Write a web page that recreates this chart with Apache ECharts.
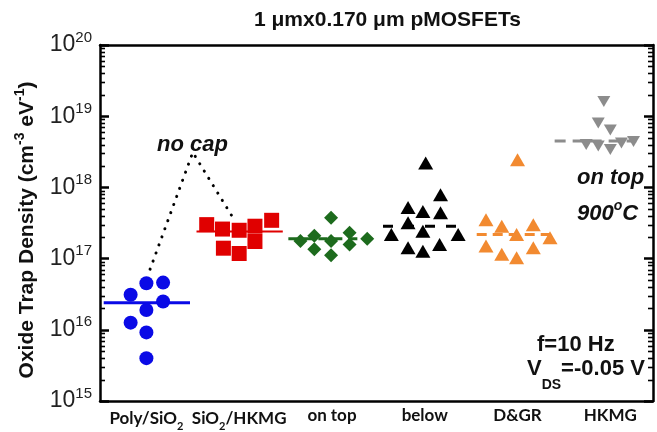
<!DOCTYPE html>
<html>
<head>
<meta charset="utf-8">
<script src="https://cdn.jsdelivr.net/npm/echarts@6/dist/echarts.min.js"></script>
<style>
  html, body { margin: 0; padding: 0; background: #fff; }
  #chart { width: 657px; height: 432px; }
</style>
</head>
<body>
<div id="chart"></div>
<script>
// Device groups along the x axis (group i sits at x = i + 0.5)
const groupLabels = ['Poly/SiO{sub|2}', 'SiO{sub|2}/HKMG', 'on top', 'below', 'D&GR', 'HKMG'];

// Measured oxide trap densities [x position, cm^-3 eV^-1]
const polySiO2 = [[0.50, 4.5e16], [0.68, 4.6e16], [0.33, 3.1e16], [0.68, 2.5e16],
                  [0.50, 1.9e16], [0.33, 1.26e16], [0.50, 9.2e15], [0.50, 4.0e15]];
const sio2Hkmg = [[1.15, 3.0e17], [1.32, 2.6e17], [1.50, 2.5e17], [1.67, 2.85e17],
                  [1.85, 3.45e17], [1.33, 1.4e17], [1.67, 1.74e17], [1.50, 1.18e17]];
const onTop    = [[2.49, 3.75e17], [2.16, 1.76e17], [2.31, 2.1e17], [2.31, 1.35e17],
                  [2.49, 1.76e17], [2.49, 1.11e17], [2.69, 2.3e17], [2.69, 1.58e17], [2.88, 1.9e17]];
const below    = [[3.51, 2.2e18], [3.67, 7.9e17], [3.32, 5.2e17], [3.48, 4.6e17],
                  [3.67, 4.4e17], [3.32, 3.2e17], [3.14, 2.18e17], [3.48, 2.43e17],
                  [3.86, 2.18e17], [3.32, 1.42e17], [3.48, 1.27e17], [3.66, 1.58e17]];
const dgr      = [[4.50, 2.45e18], [4.16, 3.5e17], [4.33, 2.85e17], [4.49, 2.18e17],
                  [4.67, 3.0e17], [4.85, 1.96e17], [4.16, 1.5e17], [4.33, 1.15e17],
                  [4.49, 1.03e17], [4.67, 1.42e17]];
const hkmg     = [[5.43, 1.61e19], [5.37, 8.0e18], [5.50, 6.4e18], [5.24, 4.0e18],
                  [5.37, 3.8e18], [5.50, 3.4e18], [5.62, 4.2e18], [5.75, 4.4e18]];

// Group means and the x extent of each mean bar
const groupMeans = [2.4e16, 2.4e17, 1.9e17, 2.85e17, 2.18e17, 4.5e18];
const meanSpans  = [[0.04, 0.97], [1.04, 1.97], [2.03, 2.98], [3.05, 3.95], [4.06, 4.92], [4.90, 5.78]];

// Dotted guide from the Poly/SiO2 group up to the "no cap" note and down to SiO2/HKMG
const noCapPath = [[0.54, 7.1e16], [1.00, 3.1e18], [1.42, 4.0e17]];

// Axis ranges
const yMin = 1e15, yMax = 1e20;
const xMin = 0, xMax = 5.96;

const groupStyles = [
  { data: polySiO2, color: '#0a0ae6', symbol: 'circle',   size: 14,       rotate: 0,   dash: 'solid', width: 3 },
  { data: sio2Hkmg, color: '#e00000', symbol: 'rect',     size: 15,       rotate: 0,   dash: 'solid', width: 2 },
  { data: onTop,    color: '#1d6b1d', symbol: 'diamond',  size: [14, 14], rotate: 0,   dash: [9, 6],  width: 3 },
  { data: below,    color: '#000000', symbol: 'triangle', size: [15, 13], rotate: 0,   dash: [10, 11], width: 3 },
  { data: dgr,      color: '#f28a30', symbol: 'triangle', size: [15, 13], rotate: 0,   dash: [10, 6], width: 3 },
  { data: hkmg,     color: '#8c8c8c', symbol: 'triangle', size: [13, 11], rotate: 180, dash: [11, 7], width: 3 }
];

// Minor log ticks 2..9 within each decade
const minorTicks = [];
for (let e = 15; e < 20; e++) {
  for (let k = 2; k <= 9; k++) minorTicks.push([xMin, k * Math.pow(10, e)]);
}

const FONT = '"Liberation Sans", Arial, sans-serif';
const LABEL_FONT = 'Lato, "Open Sans", sans-serif';

const series = [];

groupStyles.forEach((g, i) => {
  series.push({
    type: 'line',
    data: [[meanSpans[i][0], groupMeans[i]], [meanSpans[i][1], groupMeans[i]]],
    symbol: 'none',
    silent: true,
    lineStyle: { color: g.color, width: g.width, type: g.dash },
    z: 2
  });
});

series.push({
  type: 'line',
  data: noCapPath,
  symbol: 'none',
  silent: true,
  lineStyle: { color: '#000', width: 3, type: [0.1, 8.5], cap: 'round' },
  z: 2
});

groupStyles.forEach((g) => {
  series.push({
    type: 'scatter',
    data: g.data,
    symbol: g.symbol,
    symbolSize: g.size,
    symbolRotate: g.rotate,
    itemStyle: { color: g.color, opacity: 1 },
    z: 3
  });
});

series.push({
  type: 'custom',
  data: minorTicks,
  silent: true,
  clip: false,
  z: 4,
  renderItem: function (params, api) {
    const cs = params.coordSys;
    const y = Math.round(api.coord([xMin, api.value(1)])[1]) + 0.5;
    const len = 5;
    return {
      type: 'group',
      children: [
        { type: 'line', shape: { x1: cs.x, y1: y, x2: cs.x + len, y2: y },
          style: { stroke: '#000', lineWidth: 1.6 } },
        { type: 'line', shape: { x1: cs.x + cs.width, y1: y, x2: cs.x + cs.width - len, y2: y },
          style: { stroke: '#000', lineWidth: 1.6 } }
      ]
    };
  }
});

function yLabel(v) {
  const e = Math.round(Math.log10(v));
  return '{b|10}{e|' + e + '}';
}

function xLabel(v) {
  const i = Math.floor(v);
  if (Math.abs(v - i - 0.5) < 1e-6 && i >= 0 && i < groupLabels.length) return groupLabels[i];
  return '';
}

const logAxisCommon = {
  type: 'log',
  logBase: 10,
  min: yMin,
  max: yMax,
  splitLine: { show: false },
  axisLine: { show: true, onZero: false, lineStyle: { color: '#000', width: 2.5 } },
  axisTick: { show: true, inside: true, length: 9, lineStyle: { color: '#000', width: 2.5 } },
  minorTick: { show: false },
  minorSplitLine: { show: false }
};

const chart = echarts.init(document.getElementById('chart'), null, { renderer: 'canvas' });
chart.setOption({
  animation: false,
  backgroundColor: '#fff',
  title: {
    text: '1 \u03bcmx0.170 \u03bcm pMOSFETs',
    left: 249,
    top: 5,
    textStyle: { fontFamily: FONT, fontWeight: 'bold', fontSize: 21, color: '#111' }
  },
  grid: { left: 100, right: 4, top: 45, bottom: 30 },
  xAxis: [
    {
      type: 'value',
      min: xMin,
      max: xMax,
      interval: 0.5,
      splitLine: { show: false },
      axisLine: { show: true, onZero: false, lineStyle: { color: '#000', width: 2.5 } },
      axisTick: { show: false },
      axisLabel: {
        formatter: xLabel,
        margin: 5,
        color: '#111',
        fontFamily: LABEL_FONT,
        fontWeight: 'bold',
        fontSize: 17,
        lineHeight: 20,
        showMinLabel: false,
        showMaxLabel: false,
        rich: {
          sub: { fontFamily: LABEL_FONT, fontWeight: 'bold', fontSize: 11,
                 color: '#111', verticalAlign: 'bottom', lineHeight: 26 }
        }
      }
    },
    {
      type: 'value',
      position: 'top',
      min: xMin,
      max: xMax,
      splitLine: { show: false },
      axisLine: { show: true, onZero: false, lineStyle: { color: '#000', width: 2.5 } },
      axisTick: { show: false },
      axisLabel: { show: false }
    }
  ],
  yAxis: [
    Object.assign({}, logAxisCommon, {
      position: 'left',
      name: 'Oxide Trap Density (cm{s|-3} eV{s|-1})',
      nameLocation: 'middle',
      nameGap: 58,
      nameTextStyle: {
        fontFamily: FONT, fontWeight: 'bold', fontSize: 21, color: '#111',
        padding: [0, 14, 0, 0],
        rich: { s: { fontFamily: FONT, fontWeight: 'bold', fontSize: 14, color: '#111',
                     verticalAlign: 'top', lineHeight: 29 } }
      },
      axisLabel: {
        formatter: yLabel,
        margin: 8,
        rich: {
          b: { fontFamily: FONT, fontSize: 23, color: '#222', verticalAlign: 'middle', lineHeight: 30 },
          e: { fontFamily: FONT, fontSize: 15, color: '#222', verticalAlign: 'top', lineHeight: 30 }
        }
      }
    }),
    Object.assign({}, logAxisCommon, {
      position: 'right',
      axisLabel: { show: false }
    })
  ],
  series: series,
  graphic: [
    { type: 'text', left: 157, top: 134,
      style: { text: 'no cap', font: 'italic bold 22px ' + FONT, fill: '#111' } },
    { type: 'text', left: 577, top: 167,
      style: { text: 'on top', font: 'italic bold 22px ' + FONT, fill: '#111' } },
    { type: 'text', left: 577, top: 199,
      style: { text: '900{o|o}C', font: 'italic bold 22px ' + FONT, fill: '#111',
               rich: { o: { font: 'italic bold 14px ' + FONT, fill: '#111', verticalAlign: 'top', lineHeight: 30 } } } },
    { type: 'text', left: 537, top: 334,
      style: { text: 'f=10 Hz', font: 'bold 22px ' + FONT, fill: '#111' } },
    { type: 'text', left: 527, top: 358,
      style: { text: 'V{d|DS}=-0.05 V', font: 'bold 22px ' + FONT, fill: '#111',
               rich: { d: { font: 'bold 14px ' + FONT, fill: '#111', verticalAlign: 'bottom', lineHeight: 46 } } } }
  ]
});
</script>
</body>
</html>
